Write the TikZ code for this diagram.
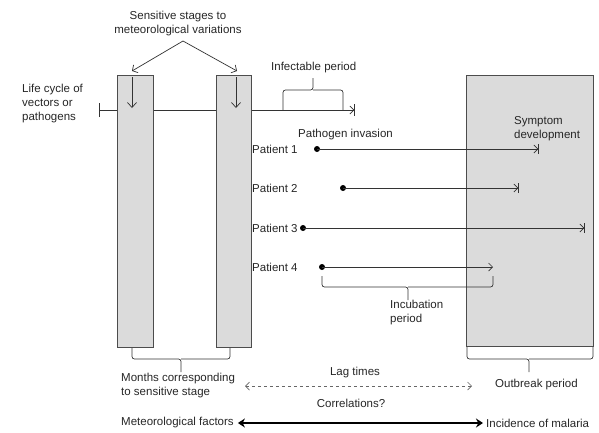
\documentclass[tikz,border=0pt]{standalone}
\usepackage{fontspec}
\setmainfont{Liberation Sans}
\usetikzlibrary{arrows.meta}
\begin{document}
\begin{tikzpicture}[x=1pt,y=-1pt,
  lbl/.style={font=\fontsize{11.5}{14}\selectfont, text=black!85, inner sep=0pt, align=left},
  stagebox/.style={draw=black!70, line width=1.3pt, fill=black!14, inner sep=0pt},
  conn/.style={draw=black!80, line width=0.7pt},
  barb/.style={-{Straight Barb[length=4pt,width=8pt]}},
  barbbar/.style={-{Straight Barb[length=4pt,width=8pt,sep=0pt]Bar[width=10pt]}},
  brace/.style={draw=black!80, line width=0.7pt, rounded corners=2.5pt},
  dot/.style={circle, fill=black, inner sep=0pt, minimum size=6pt},
]
\useasboundingbox (0,0) rectangle (599,432);

% life cycle line (behind boxes)
\coordinate (lcs) at (99,110);
\coordinate (lce) at (355,110);
\draw[conn, {Bar[width=14pt]}-{Straight Barb[length=4pt,width=8pt,sep=0pt]Bar[width=12pt]}] (lcs) -- (lce);

% boxes
\node[stagebox, anchor=north west, minimum width=36pt, minimum height=272pt] (b1) at (117,75) {};
\node[stagebox, anchor=north west, minimum width=35pt, minimum height=272pt] (b2) at (216,75) {};
\node[stagebox, anchor=north west, minimum width=127pt, minimum height=271pt] (b3) at (466,75) {};

% down arrows in boxes
\coordinate (d1s) at (132,77); \coordinate (d1e) at (132,108);
\coordinate (d2s) at (236,77); \coordinate (d2e) at (236,108);
\draw[conn, -{Straight Barb[length=5pt,width=9pt]}] (d1s) -- (d1e);
\draw[conn, -{Straight Barb[length=5pt,width=9pt]}] (d2s) -- (d2e);

% sensitive stages label and arrows
\node[lbl, align=center] (sens) at (178,23.5) {Sensitive stages to\\meteorological variations};
\coordinate (apex) at (183,41);
\coordinate (t1) at (132,71);
\coordinate (t2) at (237,71);
\draw[conn, -{Straight Barb[length=4pt,width=9pt]}] (apex) -- (t1);
\draw[conn, -{Straight Barb[length=4pt,width=9pt]}] (apex) -- (t2);

% life cycle label
\node[lbl, anchor=west] (life) at (22,104) {Life cycle of\\vectors or\\pathogens};

% infectable period
\node[lbl, anchor=west] (infect) at (271,68) {Infectable period};
\draw[brace] (283,110) -- (283,90) -- (313,90) -- (313,78);
\draw[brace] (313,90) -- (343,90) -- (343,110);

% pathogen invasion / symptom development
\node[lbl, anchor=west] (inv) at (298,135) {Pathogen invasion};
\node[lbl, anchor=west] (sym) at (514,129) {Symptom\\development};

% patients
\node[lbl, anchor=west] (pl1) at (252,149) {Patient 1};
\node[lbl, anchor=west] (pl2) at (252,188) {Patient 2};
\node[lbl, anchor=west] (pl3) at (252,228) {Patient 3};
\node[lbl, anchor=west] (pl4) at (252,267) {Patient 4};

\node[dot] (p1s) at (317,149) {};
\node[dot] (p2s) at (343,188) {};
\node[dot] (p3s) at (303,228) {};
\node[dot] (p4s) at (322,267) {};
\coordinate (p1e) at (539,149);
\coordinate (p2e) at (519,188);
\coordinate (p3e) at (585,228);
\coordinate (p4e) at (493,267);
\draw[conn, barbbar] (p1s.center) -- (p1e);
\draw[conn, barbbar] (p2s.center) -- (p2e);
\draw[conn, barbbar] (p3s.center) -- (p3e);
\draw[conn, -{Straight Barb[length=4pt,width=8pt]}] (p4s.center) -- (p4e);

% incubation brace
\draw[brace] (322,276) -- (322,287) -- (408,287) -- (408,300);
\draw[brace] (408,287) -- (493,287) -- (493,276);
\node[lbl, anchor=west] (incub) at (390,312.5) {Incubation\\period};

% months brace
\draw[brace] (132,348) -- (132,359) -- (181,359) -- (181,372);
\draw[brace] (181,359) -- (230,359) -- (230,348);
% outbreak brace
\draw[brace] (467,347) -- (467,359) -- (529,359) -- (529,372);
\draw[brace] (529,359) -- (593,359) -- (593,347);

% bottom texts
\node[lbl, anchor=west] (months) at (121,385.5) {Months corresponding\\to sensitive stage};
\node[lbl] (lag) at (355,373) {Lag times};
\node[lbl, anchor=west] (outb) at (495,385) {Outbreak period};
\coordinate (las) at (245,386);
\coordinate (lae) at (472,386);
\draw[draw=black!60, line width=0.7pt, dashed, {Straight Barb[length=4pt,width=8pt]}-{Straight Barb[length=4pt,width=8pt]}] (las) -- (lae);

\node[lbl] (corr) at (351,403) {Correlations?};
\node[lbl, anchor=west] (met) at (121,423) {Meteorological factors};
\node[lbl, anchor=west] (inc) at (486,423) {Incidence of malaria};
\draw[draw=black, line width=2.2pt, {Stealth[length=7pt,width=9pt]}-{Stealth[length=7pt,width=9pt]}] (met.east) ++(4,0) coordinate (cs) (cs) -- ([xshift=-3pt]inc.west);
\end{tikzpicture}
\end{document}
